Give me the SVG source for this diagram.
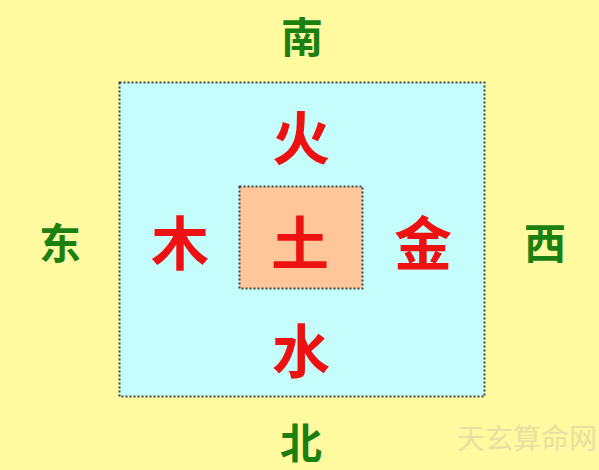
<svg xmlns="http://www.w3.org/2000/svg" width="599" height="470" viewBox="0 0 599 470">
<style>
.dir{font-family:"Noto Sans CJK SC","Noto Sans",sans-serif;font-weight:bold;font-size:42px;fill:#1b8012;text-anchor:middle;dominant-baseline:central}
.el{font-family:"Noto Sans CJK SC","Noto Sans",sans-serif;font-weight:bold;font-size:58px;fill:#ee1111;text-anchor:middle;dominant-baseline:central}
.box{stroke:#444;stroke-width:2;stroke-dasharray:2 2}
.wm{font-family:"Noto Sans CJK SC",sans-serif;font-size:28px;fill:#e8e0a0;text-anchor:end;dominant-baseline:central}
</style>
<rect x="0" y="0" width="599" height="470" fill="#fff99f"/>
<g id="outer"><rect class="box" x="119.5" y="82.5" width="365" height="314" fill="#c4fdfc"/></g>
<g id="center"><rect class="box" x="239.5" y="186.5" width="123" height="102" fill="#ffc799"/></g>
<g id="south"><text class="dir" x="302" y="34">南</text></g>
<g id="north"><text class="dir" x="301" y="440">北</text></g>
<g id="east"><text class="dir" x="60" y="240">东</text></g>
<g id="west"><text class="dir" x="545" y="240">西</text></g>
<g id="fire"><text class="el" x="301" y="135">火</text></g>
<g id="wood"><text class="el" x="180" y="240">木</text></g>
<g id="earth"><text class="el" x="300" y="240">土</text></g>
<g id="metal"><text class="el" x="423" y="240">金</text></g>
<g id="water"><text class="el" x="301" y="348">水</text></g>
<g id="connectors"></g>
<g id="watermark"><text class="wm" x="597" y="437">天玄算命网</text></g>
</svg>
